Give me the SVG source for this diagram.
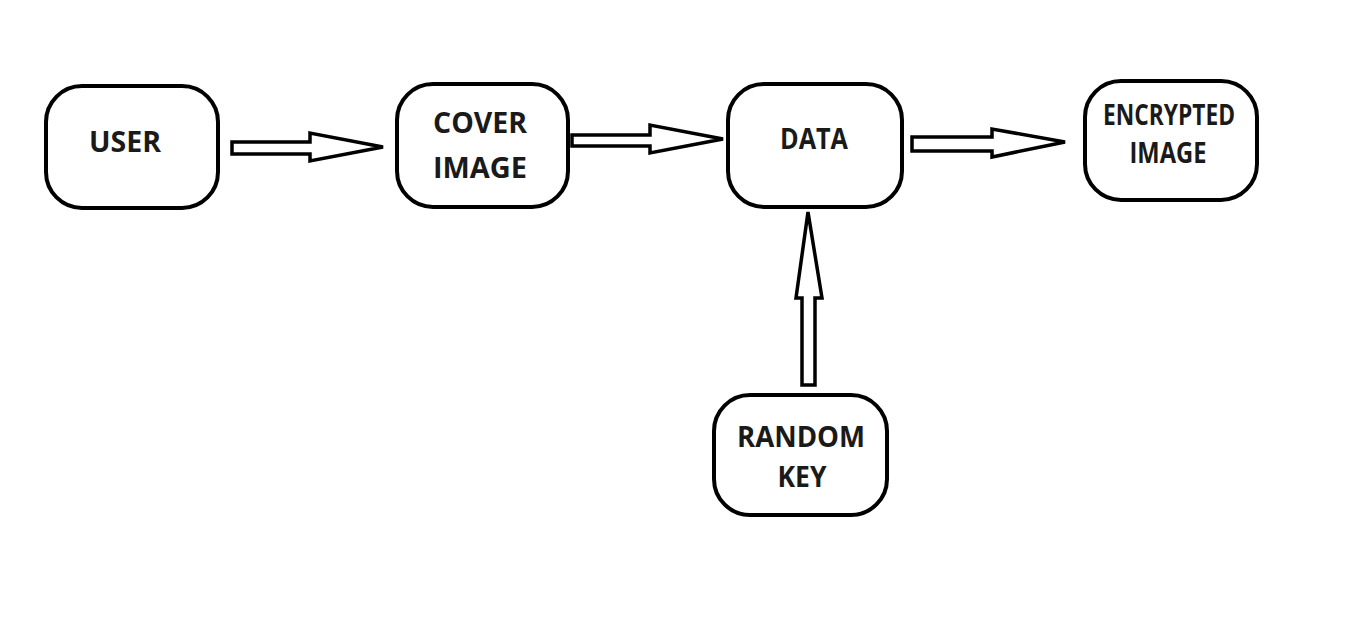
<svg xmlns="http://www.w3.org/2000/svg" width="1350" height="619" viewBox="0 0 1350 619">
<style>
.box{fill:#fff;stroke:#000;stroke-width:4}
.arr{fill:#fff;stroke:#000;stroke-width:3.5;stroke-linejoin:miter}
.t{font-family:"Open Sans","Liberation Sans",sans-serif;font-weight:700;font-size:29px;fill:#1a1a1a;text-anchor:middle}
</style>
<rect width="1350" height="619" fill="#fff"/>
<g id="connectors">
<path class="arr" d="M232,142 L310,142 L310,133 L383,147 L310,161 L310,154 L232,154 Z"/>
<path class="arr" d="M572,135 L650,135 L650,125 L723,139 L650,153 L650,146 L572,146 Z"/>
<path class="arr" d="M912,137 L992,137 L992,129 L1065,142 L992,157 L992,151 L912,151 Z"/>
<path class="arr" d="M802,385 L802,298 L796,298 L808,212 L822,298 L815,298 L815,385 Z"/>
</g>
<g id="user">
<rect class="box" x="46" y="86" width="172" height="122" rx="36"/>
<text class="t" x="125" y="152" textLength="72" lengthAdjust="spacingAndGlyphs">USER</text>
</g>
<g id="cover">
<rect class="box" x="397" y="84" width="171" height="123" rx="36"/>
<text class="t" x="480" y="133" textLength="94" lengthAdjust="spacingAndGlyphs">COVER</text>
<text class="t" x="480" y="178" textLength="94" lengthAdjust="spacingAndGlyphs">IMAGE</text>
</g>
<g id="data">
<rect class="box" x="728" y="84" width="174" height="123" rx="36"/>
<text class="t" x="814" y="149" textLength="68" lengthAdjust="spacingAndGlyphs">DATA</text>
</g>
<g id="encrypted">
<rect class="box" x="1085" y="81" width="172" height="119" rx="36"/>
<text class="t" x="1169" y="125" textLength="132" lengthAdjust="spacingAndGlyphs">ENCRYPTED</text>
<text class="t" x="1168" y="163" textLength="77" lengthAdjust="spacingAndGlyphs">IMAGE</text>
</g>
<g id="randomkey">
<rect class="box" x="714" y="395" width="173" height="120" rx="36"/>
<text class="t" x="801" y="447" textLength="128" lengthAdjust="spacingAndGlyphs">RANDOM</text>
<text class="t" x="802" y="487" textLength="49" lengthAdjust="spacingAndGlyphs">KEY</text>
</g>
</svg>
